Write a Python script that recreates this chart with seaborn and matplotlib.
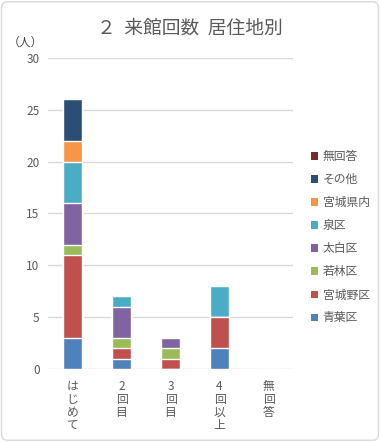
import numpy as np
import pandas as pd
import matplotlib
matplotlib.use("Agg")
import matplotlib.pyplot as plt
from matplotlib.patches import FancyBboxPatch, Patch
import seaborn as sns

categories = ["はじめて", "2回目", "3回目", "4回以上", "無回答"]
series = ["青葉区", "宮城野区", "若林区", "太白区", "泉区", "宮城県内", "その他", "無回答"]
aoba = [3, 1, 0, 2, 0]
miyaginono = [8, 1, 1, 3, 0]
wakabayashi = [1, 1, 1, 0, 0]
taihaku = [4, 3, 1, 0, 0]
izumi = [4, 1, 0, 3, 0]
kennai = [2, 0, 0, 0, 0]
sonota = [4, 0, 0, 0, 0]
mukaito = [0, 0, 0, 0, 0]
colors = ["#4F81BD", "#C0504D", "#9BBB59", "#8064A2", "#4BACC6", "#F79646", "#2C4D75", "#772C2A"]

values = [aoba, miyaginono, wakabayashi, taihaku, izumi, kennai, sonota, mukaito]
df = pd.DataFrame(values, index=series, columns=categories)
cum = df.cumsum()

sns.set_style("white")
plt.rcParams["font.family"] = ["Noto Sans CJK JP", "DejaVu Sans"]

fig = plt.figure(figsize=(3.8, 4.42), dpi=100)
ax = fig.add_axes([0.126, 0.165, 0.645, 0.704])

# draw cumulative heights from top layer down so lower layers cover
for name, col in reversed(list(zip(series, colors))):
    d = pd.DataFrame({"cat": categories, "val": cum.loc[name].values})
    sns.barplot(data=d, x="cat", y="val", color=col, width=0.4, saturation=1,
                ax=ax, zorder=3, order=categories)

ax.set_ylim(0, 30)
ax.set_yticks(range(0, 31, 5))
ax.yaxis.grid(True, color="#D9D9D9", linewidth=1, zorder=0)
ax.set_axisbelow(True)
for s in ax.spines.values():
    s.set_visible(False)
ax.set_xlabel("")
ax.set_ylabel("")
ax.set_xticks(range(len(categories)))
ax.set_xticklabels(["\n".join(c) for c in categories], linespacing=0.98)
ax.tick_params(axis="both", length=0, labelsize=8.5, colors="#595959")
ax.tick_params(axis="y", pad=6)
ax.tick_params(axis="x", pad=8)
for t in ax.get_xticklabels():
    t.set_verticalalignment("top")

fig.text(0.5, 0.937, "２  来館回数  居住地別", ha="center", va="center",
         fontsize=13.5, color="#595959")
fig.text(0.02, 0.905, "（人）", ha="left", va="center", fontsize=8.5, color="#404040")

handles = [Patch(facecolor=c, edgecolor="none") for c in colors]
leg = fig.legend(handles[::-1], series[::-1], loc="center left",
                 bbox_to_anchor=(0.79, 0.463), frameon=False, fontsize=8.5,
                 handlelength=0.6, handleheight=0.6, handletextpad=0.4,
                 labelspacing=0.85, labelcolor="#595959")

border = FancyBboxPatch((0.004, 0.004), 0.992, 0.992, boxstyle="round,pad=0,rounding_size=0.015",
                        transform=fig.transFigure, facecolor="none",
                        edgecolor="#D9D9D9", linewidth=1)
fig.patches.append(border)

fig.savefig("out.png", dpi=100)
